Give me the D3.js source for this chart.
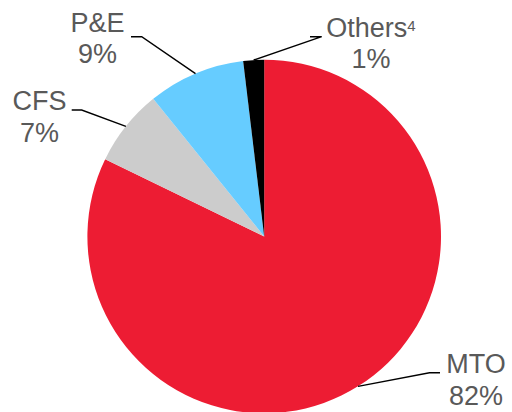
<!DOCTYPE html>
<html>
<head>
<meta charset="utf-8">
<script src="https://cdn.jsdelivr.net/npm/d3@7"></script>
<style>
  html, body { margin: 0; padding: 0; background: #fff; }
  svg { display: block; }
  .lbl { font-family: "Liberation Sans", Arial, sans-serif; font-size: 27px; fill: #595959; }
</style>
</head>
<body>
<svg id="chart"></svg>
<script>
// Slice data, clockwise from 12 o'clock
var segments = ["MTO", "CFS", "P&E", "Others"];
var shares = [82.2, 7.0, 8.9, 1.9];
var pctLabels = ["82%", "7%", "9%", "1%"];
var footnotes = ["", "", "", "4"];
var colors = ["#ED1C33", "#CCCCCC", "#66CCFF", "#000000"];

var width = 512, height = 412;
var cx = 264.2, cy = 236.5, radius = 176.8;

// label layout: text centre x, first baseline y, elbow point of leader, end of horizontal stub
var layout = [
    { tx: 476, ty: 373.3, elbow: [429.5, 372.7], stub: [440, 372.7] },
    { tx: 39.5, ty: 110, elbow: [81.7, 110], stub: [71.7, 110] },
    { tx: 97.5, ty: 31.7, elbow: [141.7, 36.7], stub: [131, 36.7] },
    { tx: 371, ty: 36.7, elbow: [321.7, 36.7], stub: [310, 36.7] }
];

var svg = d3.select("#chart")
    .attr("width", width)
    .attr("height", height);

var g = svg.append("g")
    .attr("transform", "translate(" + cx + "," + cy + ")");

var pie = d3.pie().sort(null).value(function (d) { return d; });
var arcs = pie(shares);

var arc = d3.arc().innerRadius(0).outerRadius(radius);

g.selectAll(".slice")
    .data(arcs)
    .enter().append("path")
    .attr("class", "slice")
    .attr("d", arc)
    .style("fill", function (d, i) { return colors[i]; });

// leader lines from the slice mid-angle on the rim
svg.selectAll(".leader")
    .data(arcs)
    .enter().append("polyline")
    .attr("class", "leader")
    .attr("points", function (d, i) {
        var a = (d.startAngle + d.endAngle) / 2;
        var sx = cx + Math.sin(a) * radius, sy = cy - Math.cos(a) * radius;
        var L = layout[i];
        return [[sx, sy], L.elbow, L.stub].map(function (p) { return p.join(","); }).join(" ");
    })
    .style("fill", "none")
    .style("stroke", "#000")
    .style("stroke-width", 1.4);

var labels = svg.selectAll(".lbl")
    .data(segments)
    .enter().append("text")
    .attr("class", "lbl")
    .attr("text-anchor", "middle");

labels.each(function (d, i) {
    var t = d3.select(this), L = layout[i];
    t.append("tspan").attr("x", L.tx).attr("y", L.ty).text(d);
    if (footnotes[i]) {
        t.append("tspan")
            .attr("dy", -5.5)
            .style("font-size", "15px")
            .text(footnotes[i]);
    }
    t.append("tspan").attr("x", L.tx).attr("y", L.ty + 31.7).text(pctLabels[i]);
});
</script>
</body>
</html>
